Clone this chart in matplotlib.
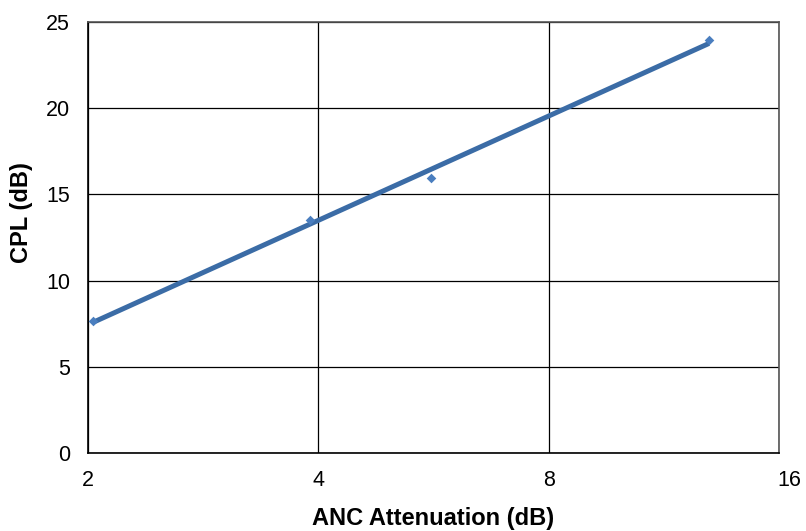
import numpy as np
import matplotlib
matplotlib.use("Agg")
import matplotlib.pyplot as plt
from matplotlib.ticker import FixedLocator, NullLocator
from matplotlib.transforms import ScaledTranslation

# data
anc_atten = [2.03, 3.90, 5.62, 12.96]
cpl = [7.66, 13.5, 15.95, 23.96]
x_ticks = [2, 4, 8, 16]
y_ticks = [0, 5, 10, 15, 20, 25]

plt.rcParams['font.family'] = ['Liberation Sans', 'DejaVu Sans']

fig = plt.figure(figsize=(8.06, 5.31), dpi=100)
ax = fig.add_axes([88 / 806, 1 - 453 / 531, (779 - 88) / 806, (453 - 22) / 531])

# logarithmic trend line fitted to the points
coef = np.polyfit(np.log2(anc_atten), cpl, 1)
xs = np.array([anc_atten[0], anc_atten[-1]])
ax.plot(xs, np.polyval(coef, np.log2(xs)), color='#3b6ca6', linewidth=3.6,
        solid_capstyle='butt', zorder=3)

ax.scatter(anc_atten, cpl, marker='D', s=24, color='#4a7ebf', zorder=4,
           linewidths=0)

ax.set_xscale('log', base=2)
ax.set_xlim(2, 16)
ax.set_ylim(0, 25)
ax.xaxis.set_major_locator(FixedLocator(x_ticks))
ax.xaxis.set_minor_locator(NullLocator())
ax.set_xticklabels([str(t) for t in x_ticks])
ax.set_yticks(y_ticks)

ax.grid(True, color='black', linewidth=0.9)
ax.set_axisbelow(True)
ax.tick_params(length=0, labelsize=15.5)
ax.tick_params(axis='x', pad=12)
ax.tick_params(axis='y', pad=13)
for sp in ax.spines.values():
    sp.set_color('#555555')
    sp.set_linewidth(1.2)
ax.spines['bottom'].set_color('black')
ax.spines['left'].set_color('black')

# last x label sits slightly right of its tick, as in the reference
last = ax.get_xticklabels()[-1]
last.set_transform(last.get_transform() + ScaledTranslation(0.1, 0, fig.dpi_scale_trans))

ax.set_xlabel('ANC Attenuation (dB)', fontsize=17, fontweight='bold', labelpad=12)
ax.set_ylabel('CPL (dB)', fontsize=17, fontweight='bold')
ax.yaxis.set_label_coords(-0.079, 0.559)

fig.savefig('out.png', dpi=100)
